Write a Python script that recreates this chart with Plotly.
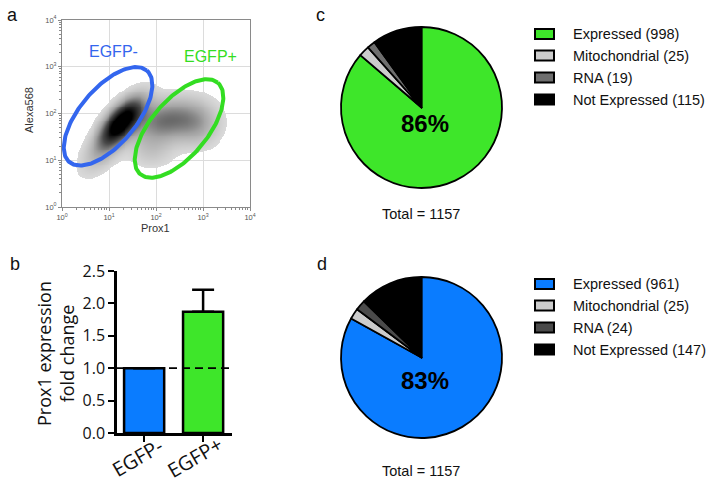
import numpy as np
import plotly.graph_objects as go

W, H = 714, 490
def px(x): return x / W
def py(y): return 1 - y / H

# ---------------- Panel a: density (log10 Prox1, log10 Alexa568) ----------------
dens_cx = [1.25, 2.2, 2.9, 0.8, 1.9]
dens_cy = [1.8, 1.85, 1.75, 1.1, 1.2]
dens_major = [0.42, 0.5, 0.32, 0.38, 0.32]
dens_minor = [0.19, 0.3, 0.32, 0.22, 0.26]
dens_angle = [50, 10, 0, 45, 0]
dens_weight = [1.0, 0.42, 0.2, 0.14, 0.12]

gate_names = ["EGFP-", "EGFP+"]
gate_cx = [0.98, 2.49]
gate_cy = [1.94, 1.68]
gate_a = [1.28, 1.28]
gate_b = [0.6, 0.6]
gate_angle = [50, 50]
gate_colors = ["#3366ee", "#33dd22"]

decades = [0, 1, 2, 3, 4]

# ---------------- Panel b ----------------
bar_cats = ["EGFP-", "EGFP+"]
bar_vals = [1.0, 1.87]
bar_err = [0.0, 0.34]
bar_colors = ["#0a7cff", "#3ee62a"]

# ---------------- Panels c, d ----------------
pie_labels = ["Expressed", "Mitochondrial", "RNA", "Not Expressed"]
pie_c_vals = [998, 25, 19, 115]
pie_d_vals = [961, 25, 24, 147]
pie_c_colors = ["#3ee62a", "#cccccc", "#6e6e6e", "#000000"]
pie_d_colors = ["#0a7cff", "#cccccc", "#4a4a4a", "#000000"]

fig = go.Figure()

def note(x, y, text, size, color="#111111", family="Liberation Sans", xanchor="center", angle=0):
    fig.add_annotation(x=px(x), y=py(y), xref="paper", yref="paper", text=text, showarrow=False,
                       xanchor=xanchor, yanchor="middle", textangle=angle,
                       font=dict(size=size, color=color, family=family))

# density field
gx = np.linspace(0, 4, 201)
gy = np.linspace(0, 4, 201)
X, Y = np.meshgrid(gx, gy)
Z = np.zeros_like(X)
for cx, cy, ma, mi, ang, w in zip(dens_cx, dens_cy, dens_major, dens_minor, dens_angle, dens_weight):
    t = np.deg2rad(ang)
    u = (X - cx) * np.cos(t) + (Y - cy) * np.sin(t)
    v = -(X - cx) * np.sin(t) + (Y - cy) * np.cos(t)
    Z += w * np.exp(-0.5 * (u**2 / ma**2 + v**2 / mi**2))
Z = Z / Z.max()
thr = 0.04
Zm = np.where(Z < thr, np.nan, Z)
fig.add_trace(go.Heatmap(
    x=gx, y=gy, z=Zm, xaxis="x", yaxis="y", zmin=thr, zmax=0.8,
    colorscale=[[0, "#dadada"], [0.3, "#a0a0a0"], [0.6, "#4a4a4a"], [1, "#000000"]],
    showscale=False, hoverinfo="skip"))

# gates
for name, cx, cy, a, b, ang, col in zip(gate_names, gate_cx, gate_cy, gate_a, gate_b, gate_angle, gate_colors):
    tt = np.linspace(0, 2 * np.pi, 200)
    t = np.deg2rad(ang)
    ex = cx + a * np.cos(tt) * np.cos(t) - b * np.sin(tt) * np.sin(t)
    ey = cy + a * np.cos(tt) * np.sin(t) + b * np.sin(tt) * np.cos(t)
    fig.add_trace(go.Scatter(x=ex, y=ey, mode="lines", line=dict(color=col, width=4),
                             xaxis="x", yaxis="y", showlegend=False, hoverinfo="skip"))

note(113, 52, gate_names[0], 16, gate_colors[0])
note(210, 57, gate_names[1], 16, gate_colors[1])

minor_vals = [np.log10(k) + d for d in decades[:-1] for k in range(2, 10)]
axa = dict(range=[0, 4], tickvals=decades, ticktext=[f"10<sup>{d}</sup>" for d in decades],
           showgrid=True, gridcolor="#dcdcdc", gridwidth=1, zeroline=False, automargin=False,
           showline=True, linecolor="#8a8a8a", linewidth=1, mirror=True,
           ticks="outside", ticklen=3, tickcolor="#8a8a8a",
           tickfont=dict(size=7.5, color="#555555", family="Liberation Sans"),
           minor=dict(tickvals=minor_vals, ticks="outside", ticklen=2, tickcolor="#8a8a8a", showgrid=False))
fig.update_layout(
    xaxis=dict(domain=[px(62), px(250)], anchor="y", **axa),
    yaxis=dict(domain=[py(207), py(20)], anchor="x", **axa),
)
note(155, 228, "Prox1", 11, "#333333")
note(29, 110, "Alexa568", 11, "#333333", angle=-90)

# ---------------- Panel b bars ----------------
fig.add_trace(go.Bar(x=bar_cats, y=bar_vals, xaxis="x2", yaxis="y2", width=0.68,
                     marker=dict(color=bar_colors, line=dict(color="#000000", width=2.5)),
                     error_y=dict(type="data", symmetric=False, array=bar_err, arrayminus=[0, 0],
                                  color="#000000", thickness=2.5, width=11),
                     showlegend=False, hoverinfo="skip"))
fig.update_layout(
    xaxis2=dict(domain=[px(117), px(232)], anchor="y2", range=[-0.46, 1.49], type="category",
                showline=True, linecolor="#000000", linewidth=2.5, ticks="outside", ticklen=6,
                tickwidth=2, tickcolor="#000000", showticklabels=False, showgrid=False, automargin=False),
    yaxis2=dict(domain=[py(433), py(271)], anchor="x2", range=[0, 2.5], dtick=0.5, tickformat=".1f",
                showline=True, linecolor="#000000", linewidth=2.5, ticks="outside", ticklen=6,
                tickwidth=2, tickcolor="#000000", showgrid=False, zeroline=False, automargin=False,
                tickfont=dict(size=16, color="#111111", family="Open Sans")),
)
for cat, shift in zip(bar_cats, [-7, -9]):
    fig.add_annotation(x=cat, y=py(457), xref="x2", yref="paper", text=cat, showarrow=False,
                       xanchor="center", yanchor="middle", textangle=-30, xshift=shift,
                       font=dict(size=20, color="#111111", family="Open Sans"))
fig.add_shape(type="line", xref="x2 domain", x0=0, x1=1, yref="y2", y0=1, y1=1,
              line=dict(color="#000000", width=1.8, dash="8px,5px"))
note(55, 354, "Prox1 expression<br>fold change", 18, family="Open Sans", angle=-90)

# ---------------- Pies ----------------
def add_pie(vals, colors, ytop, ybot):
    fig.add_trace(go.Pie(values=vals, labels=pie_labels, sort=False, direction="clockwise", rotation=0,
                         marker=dict(colors=colors, line=dict(color="#000000", width=1.8)),
                         textinfo="none", hoverinfo="skip", showlegend=False,
                         domain=dict(x=[px(341), px(502)], y=[py(ybot), py(ytop)])))

add_pie(pie_c_vals, pie_c_colors, 27, 188)
add_pie(pie_d_vals, pie_d_colors, 277, 438)

def pie_extras(vals, colors, pct_y, rows_y, total_y):
    total = sum(vals)
    pct = round(vals[0] / total * 100)
    note(425, pct_y, f"<b>{pct}%</b>", 24, "#000000")
    note(421, total_y, f"Total = {total}", 14.5)
    for lab, v, col, ry in zip(pie_labels, vals, colors, rows_y):
        fig.add_shape(type="rect", xref="paper", yref="paper", x0=px(535), x1=px(554),
                      y0=py(ry + 5), y1=py(ry - 5), fillcolor=col, line=dict(color="#000000", width=2))
        note(571, ry, f"{lab} ({v})", 14.5, xanchor="left")

pie_extras(pie_c_vals, pie_c_colors, 123, [34, 55.5, 77.5, 99.5], 214)
pie_extras(pie_d_vals, pie_d_colors, 380, [284, 305.5, 327.5, 349.5], 471)

# panel letters
for letter, lx, ly in [("a", 12, 15), ("b", 15, 264), ("c", 320, 15), ("d", 322, 264)]:
    note(lx, ly, letter, 18)

fig.update_layout(width=W, height=H, margin=dict(l=0, r=0, t=0, b=0, pad=0), autosize=False,
                  paper_bgcolor="white", plot_bgcolor="white", showlegend=False)
fig.write_html("out.html", config={"displayModeBar": False},
               post_script="document.body.style.margin='0px';document.body.style.overflow='hidden';")
